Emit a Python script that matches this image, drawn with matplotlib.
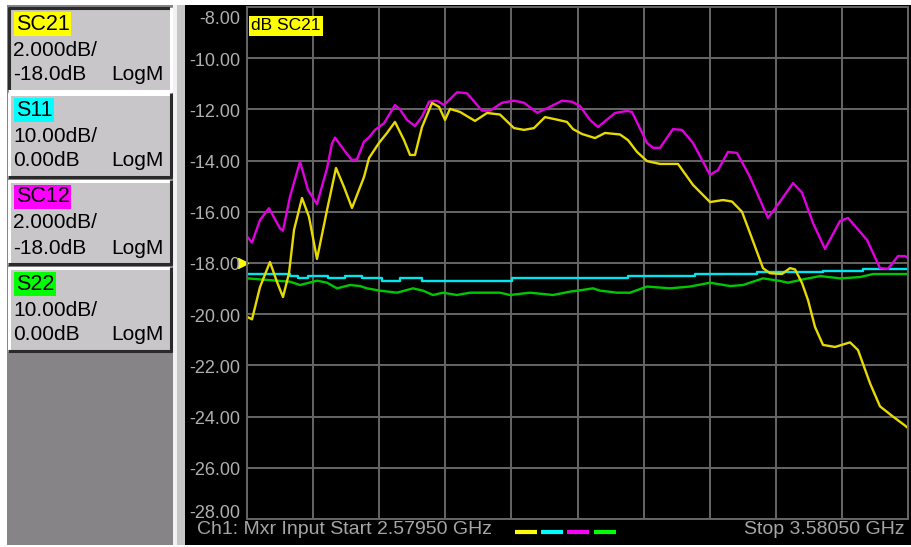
import numpy as np
import matplotlib
matplotlib.use("Agg")
import matplotlib.pyplot as plt
from matplotlib.patches import Rectangle

plt.rcParams['font.family'] = ['Liberation Sans', 'DejaVu Sans']

# --- sweep settings (GHz / dB) ---
f_start = 2.5795
f_stop = 3.5805
db_top = -8.0
db_bottom = -28.0
db_ticks = [-8, -10, -12, -14, -16, -18, -20, -22, -24, -26, -28]
db_tick_labels = ['-8.00', '-10.00', '-12.00', '-14.00', '-16.00', '-18.00',
                  '-20.00', '-22.00', '-24.00', '-26.00', '-28.00']
ref_level = -18.0

# --- traces ---
sc21_f = [2.5795, 2.5871, 2.5992, 2.6143, 2.6249, 2.6340, 2.6431, 2.6507, 2.6628, 2.6734,
          2.6855, 2.7007, 2.7143, 2.7264, 2.7385, 2.7567, 2.7643, 2.7794, 2.7915, 2.8036,
          2.8173, 2.8264, 2.8339, 2.8445, 2.8597, 2.8703, 2.8794, 2.8869, 2.9021, 2.9248,
          2.9430, 2.9626, 2.9838, 2.9990, 3.0141, 3.0308, 3.0490, 3.0641, 3.0732, 3.0868,
          3.1065, 3.1217, 3.1444, 3.1565, 3.1701, 3.1853, 3.2050, 3.2322, 3.2549, 3.2807,
          3.3004, 3.3140, 3.3291, 3.3412, 3.3609, 3.3715, 3.3897, 3.4018, 3.4094, 3.4200,
          3.4291, 3.4397, 3.4518, 3.4700, 3.4927, 3.5048, 3.5230, 3.5381, 3.5578, 3.5760,
          3.5805]
sc21_db = [-20.1, -20.2, -18.94, -17.96, -18.74, -19.33, -18.4, -16.71, -15.46, -16.2,
           -17.84, -15.93, -14.29, -15.03, -15.85, -14.64, -13.9, -13.31, -12.92, -12.49,
           -13.2, -13.78, -13.78, -12.69, -11.75, -11.9, -12.41, -11.98, -12.1, -12.45,
           -12.14, -12.2, -12.73, -12.8, -12.73, -12.3, -12.4, -12.49, -12.77, -12.96,
           -13.12, -12.92, -12.98, -13.2, -13.66, -14.02, -14.13, -14.13, -14.95, -15.62,
           -15.54, -15.6, -16.0, -16.83, -18.2, -18.4, -18.43, -18.2, -18.25, -18.78,
           -19.45, -20.5, -21.2, -21.28, -21.1, -21.4, -22.7, -23.6, -24.0, -24.35,
           -24.45]

sc12_f = [2.5795, 2.5871, 2.5992, 2.6128, 2.6295, 2.6340, 2.6446, 2.6598, 2.6719, 2.6855,
          2.7007, 2.7082, 2.7128, 2.7264, 2.7385, 2.7461, 2.7567, 2.7643, 2.7733, 2.7870,
          2.7945, 2.8036, 2.8112, 2.8218, 2.8339, 2.8445, 2.8551, 2.8672, 2.8778, 2.8975,
          2.9127, 2.9354, 2.9475, 2.9657, 2.9838, 2.9990, 3.0187, 3.0338, 3.0565, 3.0717,
          3.0838, 3.0989, 3.1110, 3.1368, 3.1550, 3.1625, 3.1853, 3.1943, 3.2050, 3.2246,
          3.2383, 3.2549, 3.2807, 3.2928, 3.3079, 3.3216, 3.3412, 3.3685, 3.3867, 3.4064,
          3.4200, 3.4367, 3.4548, 3.4775, 3.4897, 3.5184, 3.5381, 3.5502, 3.5654, 3.5760,
          3.5805]
sc12_db = [-16.97, -17.2, -16.32, -15.86, -16.65, -16.74, -15.41, -14.04, -15.15, -15.7,
           -14.3, -13.33, -13.1, -13.59, -13.98, -13.95, -13.26, -13.09, -12.8, -12.54,
           -12.22, -11.83, -12.0, -12.41, -12.65, -12.28, -11.7, -11.66, -11.83, -11.33,
           -11.37, -12.05, -12.05, -11.74, -11.66, -11.74, -12.13, -11.96, -11.66, -11.7,
           -11.87, -12.41, -12.69, -12.14, -12.06, -12.1, -13.31, -13.5, -13.5, -12.77,
           -12.8, -13.31, -14.56, -14.37, -13.66, -13.7, -14.64, -16.24, -15.6, -14.88,
           -15.25, -16.44, -17.45, -16.36, -16.24, -17.1, -18.2, -18.23, -17.73, -17.73,
           -17.8]

s11_f = [2.5795, 2.6446, 2.6567, 2.6719, 2.7022, 2.7279, 2.7537, 2.7839, 2.8112, 2.8445,
         2.9808, 3.1565, 3.2580, 3.3518, 3.4518, 3.5124, 3.5805]
s11_db = [-18.43, -18.51, -18.6, -18.51, -18.6, -18.51, -18.6, -18.69, -18.6, -18.69,
          -18.6, -18.51, -18.43, -18.34, -18.3, -18.25, -18.25]

s22_f = [2.5795, 2.6446, 2.6598, 2.6855, 2.7007, 2.7158, 2.7355, 2.7506, 2.7612, 2.7809,
         2.8067, 2.8309, 2.8460, 2.8612, 2.8763, 2.8975, 2.9172, 2.9626, 2.9778, 3.0081,
         3.0429, 3.0686, 3.0883, 3.1035, 3.1141, 3.1398, 3.1595, 3.1853, 3.2201, 3.2504,
         3.2807, 3.3110, 3.3306, 3.3609, 3.3867, 3.3988, 3.4215, 3.4473, 3.4775, 3.5078,
         3.5275, 3.5729, 3.5805]
s22_db = [-18.6, -18.73, -18.86, -18.69, -18.77, -18.99, -18.86, -18.9, -18.99, -19.08,
          -19.16, -18.99, -19.08, -19.25, -19.16, -19.25, -19.16, -19.16, -19.25, -19.16,
          -19.25, -19.12, -19.05, -18.99, -19.08, -19.16, -19.16, -18.92, -18.99, -18.92,
          -18.77, -18.9, -18.86, -18.6, -18.7, -18.77, -18.64, -18.51, -18.6, -18.55,
          -18.43, -18.43, -18.43]

# --- softkey panel ---
trace_names = ['SC21', 'S11', 'SC12', 'S22']
trace_scale = ['2.000dB/', '10.00dB/', '2.000dB/', '10.00dB/']
trace_ref = ['-18.0dB', '0.00dB', '-18.0dB', '0.00dB']
trace_fmt = ['LogM', 'LogM', 'LogM', 'LogM']
tag_colors = ['#ffff00', '#00ffff', '#ff00ff', '#00ff00']
line_colors = ['#e6da00', '#00e6ee', '#e000e0', '#00c800']

W, H = 911, 547
fig = plt.figure(figsize=(W / 100, H / 100), dpi=100, facecolor='white')

# background canvas in pixel units
bg = fig.add_axes([0, 0, 1, 1])
bg.set_xlim(0, W)
bg.set_ylim(H, 0)
bg.axis('off')

bg.add_patch(Rectangle((7, 5), 166, 540, fc='#868486', ec='none'))
bg.add_patch(Rectangle((173, 5), 4, 540, fc='#f2f2f2', ec='none'))
bg.add_patch(Rectangle((177, 5), 8, 540, fc='#c6c6c6', ec='none'))
bg.add_patch(Rectangle((185, 5), W - 185, 540, fc='black', ec='none'))

btn_tops = [7, 93, 180, 267]
btn_h = 85
for i, name in enumerate(trace_names):
    x0, x1 = 8, 172
    y0, y1 = btn_tops[i], btn_tops[i] + btn_h
    bg.add_patch(Rectangle((x0, y0), x1 - x0, y1 - y0, fc='#c8c6c8', ec='none'))
    if i == 0:
        tl, br = '#2a2a2a', '#ffffff'
    else:
        tl, br = '#ffffff', '#2a2a2a'
    bg.plot([x0, x1], [y0 + 1, y0 + 1], color=tl, lw=2.2, solid_capstyle='butt')
    bg.plot([x0 + 1, x0 + 1], [y0, y1], color=tl, lw=2.2, solid_capstyle='butt')
    bg.plot([x0, x1], [y1 - 1, y1 - 1], color=br, lw=2.2, solid_capstyle='butt')
    bg.plot([x1 - 1, x1 - 1], [y0, y1], color=br, lw=2.2, solid_capstyle='butt')
    bg.text(16, y0 + 17, name, fontsize=15.5, color='black', va='center', ha='left',
            bbox=dict(boxstyle='square,pad=0.08', fc=tag_colors[i], ec='none'))
    bg.text(13, y0 + 43, trace_scale[i], fontsize=15, va='center', ha='left')
    bg.text(13, y0 + 68, trace_ref[i], fontsize=15, va='center', ha='left')
    bg.text(164, y0 + 68, trace_fmt[i], fontsize=15, va='center', ha='right')

# status line
bg.text(197, 530, 'Ch1: Mxr Input Start 2.57950 GHz', fontsize=14, color='#a6a6a6',
        va='center', ha='left')
bg.text(905, 530, 'Stop 3.58050 GHz', fontsize=14, color='#a6a6a6', va='center', ha='right')
dash_x = [515, 541, 567, 594]
for i, c in enumerate(tag_colors):
    bg.plot([dash_x[i], dash_x[i] + 22], [532, 532], color=c, lw=3, solid_capstyle='butt')

# --- measurement grid ---
ax = fig.add_axes([247 / W, (H - 519) / H, 661 / W, 512 / H])
ax.set_facecolor('black')
ax.set_xlim(f_start, f_stop)
ax.set_ylim(db_bottom, db_top)
ax.set_xticks(np.linspace(f_start, f_stop, 11))
ax.set_yticks(db_ticks)
ax.tick_params(length=0, labelbottom=False, labelleft=False)
ax.grid(True, color='#666666', lw=1.4)
for s in ax.spines.values():
    s.set_color('#666666')
    s.set_linewidth(1.4)

for v, lbl in zip(db_ticks, db_tick_labels):
    dy = -3
    if v == db_top:
        dy = -13
    elif v == db_bottom:
        dy = 6
    ax.annotate(lbl, (0, v), xycoords=('axes fraction', 'data'), xytext=(-7, dy),
                textcoords='offset pixels', ha='right', va='center', fontsize=13,
                color='#b0b0b0', annotation_clip=False)

ax.plot(s22_f, s22_db, color=line_colors[3], lw=1.7)
ax.plot(s11_f, s11_db, color=line_colors[1], lw=1.7, drawstyle='steps-post')
ax.plot(sc12_f, sc12_db, color=line_colors[2], lw=1.7)
ax.plot(sc21_f, sc21_db, color=line_colors[0], lw=1.7)

ax.plot([-0.006], [ref_level], marker='>', ms=7, color='#ffff00',
        transform=ax.get_yaxis_transform(), clip_on=False)

ax.text(0.006, 0.963, 'dB SC21', transform=ax.transAxes, fontsize=12.5, color='black',
        va='center', ha='left',
        bbox=dict(boxstyle='square,pad=0.12', fc='#ffff00', ec='none'))

fig.savefig('out.png', dpi=100, facecolor='white')
